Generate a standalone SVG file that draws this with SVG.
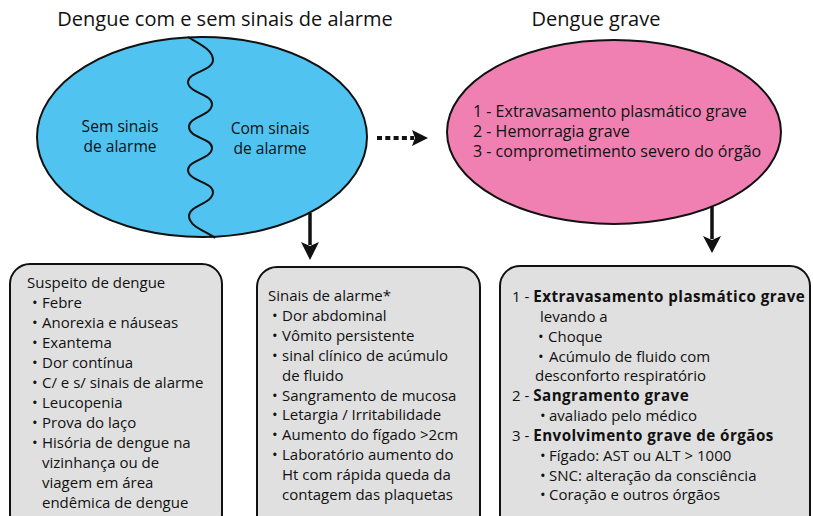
<svg xmlns="http://www.w3.org/2000/svg" width="813" height="516" viewBox="0 0 813 516">
<defs>
<style>
text{font-family:"Open Sans","Noto Sans","Liberation Sans",sans-serif;fill:#111;}
.title{font-size:20px;}
.lbl{font-size:15.6px;}
.pk{font-size:16px;}
.bx{font-size:15px;}
.b{font-weight:bold;font-size:15.2px;letter-spacing:0.45px;}
.box{fill:#e0e0e0;stroke:#111;stroke-width:2;}
.ell{stroke:#111;stroke-width:2;}
</style>
</defs>
<rect width="813" height="516" fill="#fff"/>

<g id="title-left"><text class="title" x="225" y="26" text-anchor="middle">Dengue com e sem sinais de alarme</text></g>
<g id="title-right"><text class="title" x="596" y="26" text-anchor="middle">Dengue grave</text></g>

<g id="blue-ellipse">
<ellipse class="ell" cx="202" cy="137" rx="165" ry="100" fill="#51c3f0"/>
<path d="M188,37 C200,44 213,50 213,60 C213,71 188,72 188,82 C188,93 212,94 212,104 C212,116 189,116 189,127 C189,138 212,138 212,148 C212,159 188,160 188,170 C188,181 213,182 213,192 C213,204 189,205 189,216 C189,227 208,232 215,238" fill="none" stroke="#111" stroke-width="2"/>
<text class="lbl" x="120" y="132" text-anchor="middle">Sem sinais</text>
<text class="lbl" x="120" y="152" text-anchor="middle">de alarme</text>
<text class="lbl" x="270" y="134" text-anchor="middle">Com sinais</text>
<text class="lbl" x="270" y="154" text-anchor="middle">de alarme</text>
</g>

<g id="pink-ellipse">
<ellipse class="ell" cx="614" cy="132" rx="167" ry="92" fill="#ef80b1"/>
<text class="pk" x="473" y="117">1 - Extravasamento plasmático grave</text>
<text class="pk" x="473" y="137">2 - Hemorragia grave</text>
<text class="pk" x="473" y="157">3 - comprometimento severo do órgão</text>
</g>

<g id="connectors">
<line x1="377" y1="138" x2="414" y2="138" stroke="#111" stroke-width="4" stroke-dasharray="5,3.3"/>
<path d="M412,130 L428,138 L412,146 L415,138 Z" fill="#111"/>
<line x1="310" y1="213" x2="310" y2="245" stroke="#111" stroke-width="3.5"/>
<path d="M301,242 L310,260 L319,242 L310,246 Z" fill="#111"/>
<line x1="712" y1="207" x2="712" y2="239" stroke="#111" stroke-width="3.5"/>
<path d="M703,236 L712,253 L721,236 L712,240 Z" fill="#111"/>
</g>

<g id="box-suspeito">
<rect class="box" x="10" y="264" width="212" height="270" rx="20"/>
<text class="bx" x="27" y="288">Suspeito de dengue</text>
<text class="bx" x="32" y="308">•<tspan x="42">Febre</tspan></text>
<text class="bx" x="32" y="328">•<tspan x="42">Anorexia e náuseas</tspan></text>
<text class="bx" x="32" y="348">•<tspan x="42">Exantema</tspan></text>
<text class="bx" x="32" y="368">•<tspan x="42">Dor contínua</tspan></text>
<text class="bx" x="32" y="388">•<tspan x="42">C/ e s/ sinais de alarme</tspan></text>
<text class="bx" x="32" y="408">•<tspan x="42">Leucopenia</tspan></text>
<text class="bx" x="32" y="428">•<tspan x="42">Prova do laço</tspan></text>
<text class="bx" x="32" y="448">•<tspan x="42">Hisória de dengue na</tspan></text>
<text class="bx" x="42" y="468">vizinhança ou de</text>
<text class="bx" x="42" y="488">viagem em área</text>
<text class="bx" x="42" y="508">endêmica de dengue</text>
</g>

<g id="box-sinais">
<rect class="box" x="257" y="267" width="223" height="270" rx="20"/>
<text class="bx" x="268" y="301">Sinais de alarme*</text>
<text class="bx" x="272" y="321">•<tspan x="282">Dor abdominal</tspan></text>
<text class="bx" x="272" y="341">•<tspan x="282">Vômito persistente</tspan></text>
<text class="bx" x="272" y="361">•<tspan x="282">sinal clínico de acúmulo</tspan></text>
<text class="bx" x="282" y="381">de fluido</text>
<text class="bx" x="272" y="401">•<tspan x="282">Sangramento de mucosa</tspan></text>
<text class="bx" x="272" y="420">•<tspan x="282">Letargia / Irritabilidade</tspan></text>
<text class="bx" x="272" y="440">•<tspan x="282">Aumento do fígado &gt;2cm</tspan></text>
<text class="bx" x="272" y="460">•<tspan x="282">Laboratório aumento do</tspan></text>
<text class="bx" x="282" y="480">Ht com rápida queda da</text>
<text class="bx" x="282" y="500">contagem das plaquetas</text>
</g>

<g id="box-grave">
<rect class="box" x="500" y="266" width="310" height="270" rx="20"/>
<text class="bx" x="512" y="302">1 - <tspan class="b">Extravasamento plasmático grave</tspan></text>
<text class="bx" x="540" y="322">levando a</text>
<text class="bx" x="538" y="342">•<tspan x="548">Choque</tspan></text>
<text class="bx" x="538" y="362">•<tspan x="549">Acúmulo de fluido com</tspan></text>
<text class="bx" x="535" y="381">desconforto respiratório</text>
<text class="bx" x="512" y="401">2 - <tspan class="b">Sangramento grave</tspan></text>
<text class="bx" x="540" y="421">•<tspan x="549">avaliado pelo médico</tspan></text>
<text class="bx" x="512" y="441">3 - <tspan class="b">Envolvimento grave de órgãos</tspan></text>
<text class="bx" x="540" y="461">•<tspan x="549">Fígado: AST ou ALT &gt; 1000</tspan></text>
<text class="bx" x="540" y="481">•<tspan x="549">SNC: alteração da consciência</tspan></text>
<text class="bx" x="540" y="500">•<tspan x="549">Coração e outros órgãos</tspan></text>
</g>
</svg>
